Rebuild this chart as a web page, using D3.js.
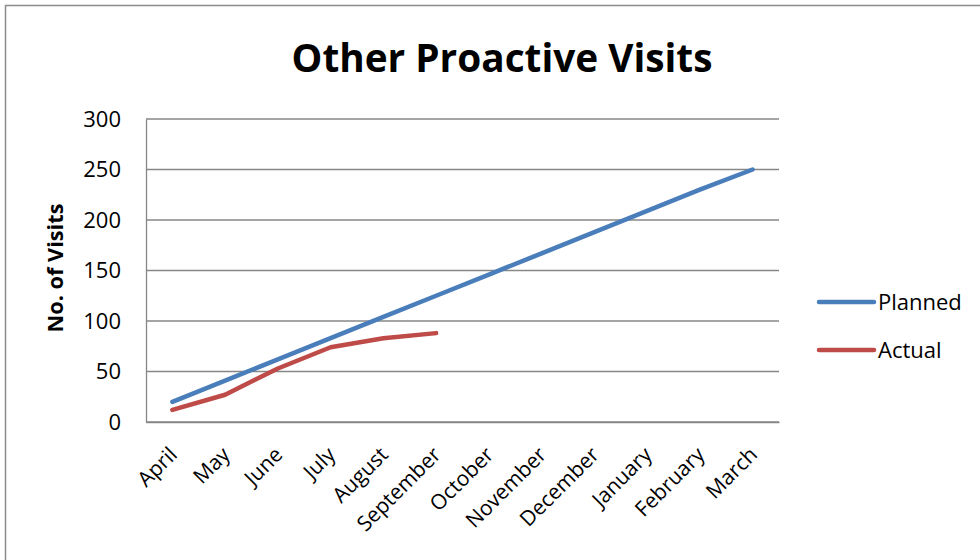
<!DOCTYPE html>
<html><head><meta charset="utf-8">
<script src="https://cdn.jsdelivr.net/npm/d3@7"></script>
<style>
html,body{margin:0;padding:0;background:#fff;}
svg{display:block;font-family:"Open Sans","Noto Sans",sans-serif;}
</style></head>
<body>
<svg id="chart" width="980" height="560"></svg>
<script>
const months = ["April","May","June","July","August","September","October","November","December","January","February","March"];
const planned = [20, 41, 62, 83, 104, 125, 146, 167, 188, 209, 230, 250];
const actual = [12, 27, 53, 74, 83, 88];
const yTicks = [0, 50, 100, 150, 200, 250, 300];
const seriesNames = ["Planned", "Actual"];
const seriesColors = ["#4a7ebb", "#be4b48"];
const titleText = "Other Proactive Visits";
const yLabelText = "No. of Visits";

const svg = d3.select("#chart");
const plot = {left: 146, right: 779, top: 119, bottom: 422};

// outer chart border
svg.append("rect").attr("x", 5.5).attr("y", 5.5).attr("width", 1000).attr("height", 600)
  .attr("fill", "#fff").attr("stroke", "#8c8c8c").attr("stroke-width", 1.5);

const x = d3.scaleBand().domain(months).range([plot.left, plot.right]);
const y = d3.scaleLinear().domain([0, 300]).range([plot.bottom, plot.top]);

// gridlines
svg.append("g").selectAll("line").data(yTicks).join("line")
  .attr("x1", plot.left).attr("x2", plot.right)
  .attr("y1", d => y(d)).attr("y2", d => y(d))
  .attr("stroke", "#878787").attr("stroke-width", 1.3);

// y axis
const yAxis = svg.append("g").attr("transform", `translate(${plot.left},0)`)
  .call(d3.axisLeft(y).tickValues(yTicks).tickSize(0).tickPadding(25));
yAxis.select(".domain").attr("stroke", "#878787").attr("stroke-width", 1.3);
yAxis.selectAll("text").attr("font-size", 22).attr("fill", "#000")
  .attr("font-family", "'Open Sans','Noto Sans',sans-serif");

// x axis
const xAxis = svg.append("g").attr("transform", `translate(0,${plot.bottom})`)
  .call(d3.axisBottom(x).tickSize(0).tickPadding(0));
xAxis.select(".domain").attr("stroke", "#878787").attr("stroke-width", 1.3);
xAxis.selectAll("text")
  .attr("font-size", 21).attr("fill", "#000")
  .attr("font-family", "'Open Sans','Noto Sans',sans-serif")
  .attr("text-anchor", "end")
  .attr("dy", 0)
  .attr("transform", `translate(6,34) rotate(-45)`)
  .attr("y", 0).attr("x", 0);

// lines
const cx = (d, i) => x(months[i]) + x.bandwidth() / 2;
const line = d3.line().x((d, i) => cx(d, i)).y(d => y(d));
[planned, actual].forEach((s, k) => {
  svg.append("path").datum(s).attr("d", line)
    .attr("fill", "none").attr("stroke", seriesColors[k])
    .attr("stroke-width", 4.5).attr("stroke-linejoin", "round").attr("stroke-linecap", "round");
});

// title
const title = svg.append("text").attr("x", 502).attr("y", 72)
  .attr("text-anchor", "middle").attr("font-weight", "bold").attr("font-size", 38)
  .attr("fill", "#000").text(titleText);
(function fit(t, w){ const l = t.node().getComputedTextLength(); const fs = +t.attr("font-size"); t.attr("font-size", fs * w / l); })(title, 421);

// y label
const yl = svg.append("text").attr("transform", "translate(63,268) rotate(-90)")
  .attr("text-anchor", "middle").attr("font-weight", "bold").attr("font-size", 21)
  .attr("fill", "#000").text(yLabelText);
(function fit(t, w){ const l = t.node().getComputedTextLength(); const fs = +t.attr("font-size"); t.attr("font-size", fs * w / l); })(yl, 129);

// legend
const lg = svg.append("g");
seriesNames.forEach((n, k) => {
  const ly = 302 + k * 48;
  lg.append("line").attr("x1", 819).attr("x2", 874).attr("y1", ly).attr("y2", ly)
    .attr("stroke", seriesColors[k]).attr("stroke-width", 4.5).attr("stroke-linecap", "round");
  lg.append("text").attr("x", 878).attr("y", ly).attr("dy", "0.35em")
    .attr("font-size", 22).attr("fill", "#000").text(n);
});
</script>
</body></html>
